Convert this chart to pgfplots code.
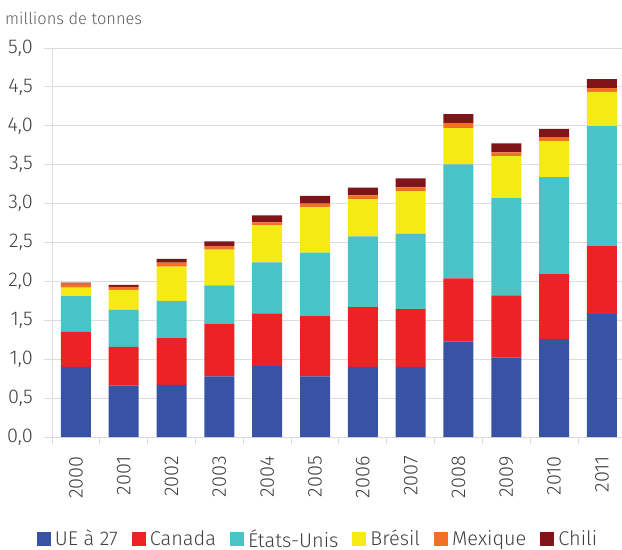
\documentclass[border=0pt]{standalone}
\usepackage{pgfplots}
\pgfplotsset{compat=1.18}
\usepackage{fontspec}
\setmainfont{Fira Sans Light}
\definecolor{cUE}{HTML}{3953A4}
\definecolor{cCA}{HTML}{ED2224}
\definecolor{cUS}{HTML}{48C3C6}
\definecolor{cBR}{HTML}{F5EB14}
\definecolor{cMX}{HTML}{F36F24}
\definecolor{cCL}{HTML}{7F1518}
\definecolor{gridgray}{HTML}{DCDCDC}
\definecolor{txt}{HTML}{404040}
\pgfplotstableread{
x UE CA US BR MX CL
0  0.90 0.45  0.46  0.11  0.05  0.015
1  0.66 0.50  0.475 0.255 0.04  0.025
2  0.67 0.60  0.48  0.44  0.05  0.05
3  0.78 0.67  0.50  0.46  0.045 0.06
4  0.91 0.68  0.655 0.475 0.04  0.09
5  0.78 0.78  0.81  0.58  0.05  0.10
6  0.90 0.77  0.91  0.475 0.05  0.10
7  0.90 0.745 0.965 0.55  0.05  0.115
8  1.23 0.81  1.465 0.465 0.065 0.115
9  1.02 0.80  1.25  0.54  0.05  0.115
10 1.26 0.835 1.245 0.465 0.05  0.105
11 1.58 0.875 1.54  0.44  0.05  0.115
}\data
\begin{document}
\begin{tikzpicture}
\path[use as bounding box] (0bp,0bp) rectangle (622bp,-550bp);
\begin{axis}[
  at={(52bp,-437bp)}, anchor=south west,
  scale only axis, width=570bp, height=389bp,
  ybar stacked, bar width=30bp,
  xmin=-0.5, xmax=11.42, ymin=0, ymax=5,
  axis lines*=left,
  axis line style={draw=gridgray, line width=1pt},
  xtick={0,...,11},
  xticklabels={2000,2001,2002,2003,2004,2005,2006,2007,2008,2009,2010,2011},
  minor xtick={-0.5,0.5,...,10.5},
  ytick={0,0.5,...,5},
  tick align=outside,
  major tick length=8bp, minor tick length=7bp,
  major x tick style={draw=none},
  minor x tick style={draw=gridgray, line width=1pt},
  major y tick style={draw=gridgray, line width=1pt},
  ymajorgrids, grid style={draw=gridgray, line width=1pt},
  /pgf/number format/.cd, fixed, fixed zerofill, precision=1, use comma, assume math mode=true,
  /pgfplots/.cd,
  ticklabel style={font=\fontsize{20}{22}\selectfont, text=txt},
  yticklabel style={inner sep=0pt, anchor=east},
  yticklabel shift=11bp,
  xticklabel style={rotate=90, anchor=east, inner sep=0pt},
  xticklabel shift=11bp,
  title={millions de tonnes},
  title style={at={(axis description cs:-0.0825,1.062)}, anchor=west, inner sep=0pt,
    font=\fontsize{16.5}{18}\selectfont, text=txt!85},
  legend columns=6,
  legend style={draw=none, fill=none, at={(axis description cs:0.465,-0.262)}, anchor=center,
    font=\fontsize{20}{22}\selectfont, text=txt,
    /tikz/every odd column/.append style={column sep=4bp},
    /tikz/every even column/.append style={column sep=14bp},
    nodes={inner sep=0pt}},
  legend image code/.code={\fill[#1] (0bp,-7bp) rectangle (14bp,7bp);},
  every axis plot/.append style={draw=none},
]
\addplot[fill=cUE] table[x=x,y=UE]{\data};
\addplot[fill=cCA] table[x=x,y=CA]{\data};
\addplot[fill=cUS] table[x=x,y=US]{\data};
\addplot[fill=cBR] table[x=x,y=BR]{\data};
\addplot[fill=cMX] table[x=x,y=MX]{\data};
\addplot[fill=cCL] table[x=x,y=CL]{\data};
\legend{UE à 27, Canada, États-Unis, Brésil, Mexique, Chili}
\end{axis}
\end{tikzpicture}
\end{document}
